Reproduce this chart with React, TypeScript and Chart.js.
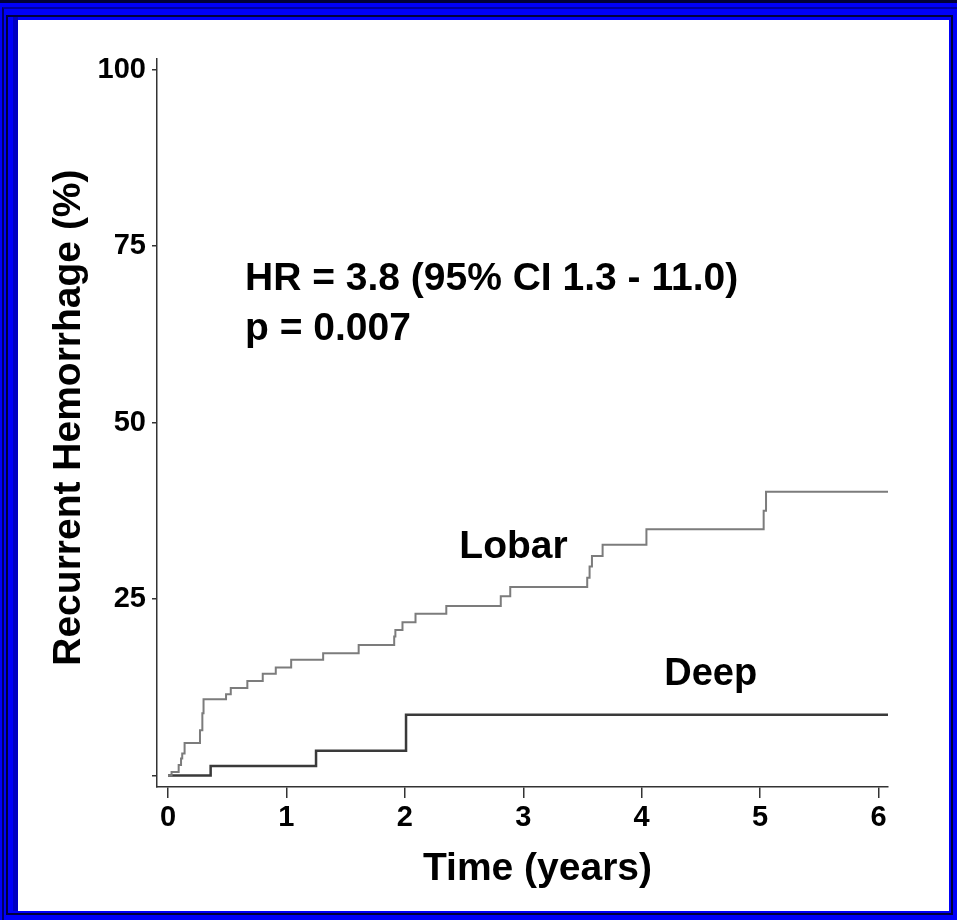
import React, { useEffect, useRef } from 'react';
import { Chart, registerables } from 'chart.js';

Chart.register(...registerables);

// ---- data ----
const lobarTimes = [0, 0.03, 0.09, 0.11, 0.12, 0.14, 0.27, 0.29, 0.3, 0.49, 0.53, 0.67, 0.8, 0.91, 1.04, 1.31, 1.61, 1.91, 1.92, 1.98, 2.09, 2.35, 2.81, 2.89, 3.54, 3.56, 3.58, 3.67, 4.04, 5.03, 5.05, 6.08];
const lobarValues = [0, 0.5, 1.5, 2.4, 3.1, 4.6, 6.4, 8.8, 10.8, 11.5, 12.4, 13.4, 14.4, 15.3, 16.4, 17.3, 18.5, 19.7, 20.6, 21.7, 22.9, 24.0, 25.4, 26.7, 28.0, 29.6, 31.1, 32.7, 34.9, 37.5, 40.2, 40.2];
const deepTimes = [0, 0.36, 1.25, 2.01, 6.08];
const deepValues = [0, 1.35, 3.5, 8.6, 8.6];

const xTickValues = [0, 1, 2, 3, 4, 5, 6];
const yTickValues = [0, 25, 50, 75, 100];
const yTickLabels = ['', '25', '50', '75', '100'];

const xAxisTitle = 'Time (years)';
const yAxisTitle = 'Recurrent Hemorrhage (%)';
const statLines = ['HR = 3.8 (95% CI 1.3 - 11.0)', 'p = 0.007'];
const seriesNames = ['Lobar', 'Deep'];

const FONT = "'Liberation Sans', Arial, Helvetica, sans-serif";

const textPlugin = {
  id: 'kmTexts',
  afterDraw(chart: any) {
    const { ctx, chartArea } = chart;
    const x = chart.scales.x;
    const y = chart.scales.y;
    ctx.save();
    ctx.fillStyle = '#000';
    ctx.font = `bold 39px ${FONT}`;
    ctx.textAlign = 'left';
    ctx.textBaseline = 'alphabetic';
    ctx.fillText(statLines[0], x.getPixelForValue(0.65), y.getPixelForValue(68.8));
    ctx.fillText(statLines[1], x.getPixelForValue(0.65), y.getPixelForValue(61.7));
    ctx.fillText(seriesNames[0], x.getPixelForValue(2.46), y.getPixelForValue(30.8));
    ctx.font = `bold 38px ${FONT}`;
    ctx.fillText(seriesNames[1], x.getPixelForValue(4.19), y.getPixelForValue(12.8));
    // x axis title
    ctx.font = `bold 39px ${FONT}`;
    ctx.textAlign = 'center';
    ctx.fillText(xAxisTitle, x.getPixelForValue(3.12), chartArea.bottom + 93);
    // y axis title
    ctx.translate(chartArea.left - 77, y.getPixelForValue(50.7));
    ctx.rotate(-Math.PI / 2);
    ctx.fillText(yAxisTitle, 0, 0);
    ctx.restore();
  },
};

export default function App() {
  const canvasRef = useRef<HTMLCanvasElement | null>(null);

  useEffect(() => {
    const canvas = canvasRef.current;
    if (!canvas) return;
    const chart = new Chart(canvas, {
      type: 'line',
      data: {
        datasets: [
          {
            label: seriesNames[0],
            data: lobarTimes.map((t, i) => ({ x: t, y: lobarValues[i] })),
            borderColor: '#7c7c7c',
            borderWidth: 2,
            stepped: 'before',
            pointRadius: 0,
            fill: false,
          },
          {
            label: seriesNames[1],
            data: deepTimes.map((t, i) => ({ x: t, y: deepValues[i] })),
            borderColor: '#3a3a3a',
            borderWidth: 2.5,
            stepped: 'before',
            pointRadius: 0,
            fill: false,
          },
        ],
      },
      options: {
        responsive: false,
        animation: false,
        layout: { padding: { left: 0, top: 59, right: 69, bottom: 0 } },
        plugins: { legend: { display: false }, tooltip: { enabled: false } },
        scales: {
          x: {
            type: 'linear',
            min: -0.093,
            max: 6.08,
            afterBuildTicks: (s: any) => {
              s.ticks = xTickValues.map((v) => ({ value: v }));
            },
            afterFit: (s: any) => {
              s.height = 133;
            },
            grid: {
              display: true,
              drawOnChartArea: false,
              drawTicks: true,
              tickLength: 11,
              color: '#333',
              lineWidth: 1.5,
            },
            border: { display: true, color: '#333', width: 1.5 },
            ticks: {
              font: { family: FONT, size: 29, weight: 'bold' },
              color: '#000',
              padding: 3,
              maxRotation: 0,
              autoSkip: false,
              callback: (v: any) => String(v),
            },
          },
          y: {
            type: 'linear',
            min: -1.63,
            max: 101.5,
            afterBuildTicks: (s: any) => {
              s.ticks = yTickValues.map((v) => ({ value: v }));
            },
            afterFit: (s: any) => {
              s.width = 157;
            },
            grid: {
              display: true,
              drawOnChartArea: false,
              drawTicks: true,
              tickLength: 5,
              color: '#333',
              lineWidth: 1.5,
            },
            border: { display: true, color: '#333', width: 1.5 },
            ticks: {
              font: { family: FONT, size: 29, weight: 'bold' },
              color: '#000',
              padding: 6,
              autoSkip: false,
              callback: (v: any) => {
                const i = yTickValues.indexOf(Number(v));
                return i >= 0 ? yTickLabels[i] : '';
              },
            },
          },
        },
      },
      plugins: [textPlugin],
    } as any);
    return () => chart.destroy();
  }, []);

  return (
    <div style={{ position: 'absolute', left: 0, top: 0, width: 957, height: 920, background: '#000038', overflow: 'hidden' }}>
      <div style={{ position: 'absolute', left: 0, top: 3, right: 0, bottom: 0, background: '#0000f8' }} />
      <div style={{ position: 'absolute', left: 2, top: 7, right: 0, bottom: 0, borderTop: '2px solid #00009a', borderLeft: '2px solid #000060' }} />
      <div style={{ position: 'absolute', left: 6, top: 15, right: 4, bottom: 5, boxSizing: 'border-box', border: '2px solid #00003c' }} />
      <div style={{ position: 'absolute', left: 13, top: 17, width: 5, bottom: 9, background: '#0000c0' }} />
      <div style={{ position: 'absolute', left: 18, top: 20, width: 931, height: 891, background: '#ffffff' }} />
      <canvas ref={canvasRef} width={957} height={920} style={{ position: 'absolute', left: 0, top: 0, width: 957, height: 920 }} />
    </div>
  );
}
